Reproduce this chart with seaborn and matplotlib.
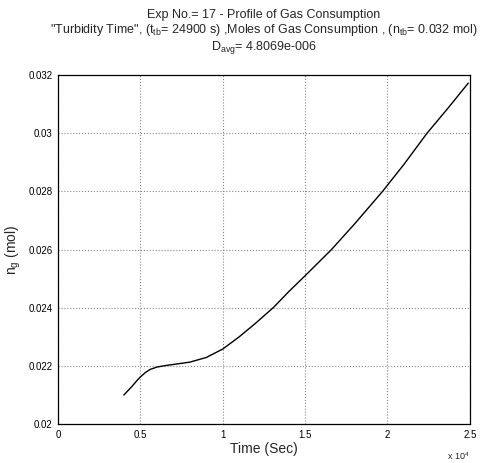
import numpy as np
import pandas as pd
import matplotlib
matplotlib.use('Agg')
import matplotlib.pyplot as plt
import seaborn as sns

# values
time_sec = [4000, 4200, 4500, 4800, 5000, 5300, 5600, 6000, 6500, 7000,
            8000, 9000, 10000, 11000, 12000, 13100, 14000, 15000, 16600,
            18000, 19700, 21000, 22400, 23700, 24900]
n_gas = [0.0210, 0.02112, 0.02130, 0.02150, 0.02162, 0.02177, 0.02188,
         0.02196, 0.02201, 0.02205, 0.02213, 0.02229, 0.02258, 0.02300,
         0.02347, 0.02402, 0.02455, 0.02510, 0.02600, 0.02688, 0.02800,
         0.02893, 0.03000, 0.03088, 0.03172]
x_ticks = [0, 5000, 10000, 15000, 20000, 25000]
x_ticklabels = ['0', '0.5', '1', '1.5', '2', '2.5']
y_ticks = [0.020, 0.022, 0.024, 0.026, 0.028, 0.030, 0.032]
y_ticklabels = ['0.02', '0.022', '0.024', '0.026', '0.028', '0.03', '0.032']

df = pd.DataFrame({'time': time_sec, 'ng': n_gas})

sns.set_style('white')
plt.rcParams['font.family'] = ['Liberation Sans', 'DejaVu Sans']
plt.rcParams['mathtext.fontset'] = 'custom'
plt.rcParams['mathtext.rm'] = 'Liberation Sans'
plt.rcParams['mathtext.it'] = 'Liberation Sans'

fig = plt.figure(figsize=(4.91, 4.63), dpi=100)
ax = fig.add_axes([0.118, 0.084, 0.839, 0.754])
sns.lineplot(data=df, x='time', y='ng', color='black', linewidth=1.0, ax=ax)

ax.set_xlim(0, 25000)
ax.set_ylim(0.02, 0.032)
ax.set_xticks(x_ticks)
ax.set_xticklabels(x_ticklabels, fontsize=7)
ax.set_yticks(y_ticks)
ax.set_yticklabels(y_ticklabels, fontsize=7)
ax.tick_params(direction='in', length=3, width=0.8, colors='black', pad=4)
ax.grid(True, linestyle=':', color='#888888', linewidth=0.8)
for s in ax.spines.values():
    s.set_color('black')
    s.set_linewidth(0.9)

ax.set_xlabel('Time (Sec)', fontsize=10, labelpad=2)
ax.set_ylabel(r'n$_{\mathrm{g}}$ (mol)', fontsize=10, labelpad=4)
ax.text(1.0, -0.075, r'x 10$^{4}$', transform=ax.transAxes, fontsize=6.5,
        ha='right', va='top')

title = ('Exp No.= 17 - Profile of Gas Consumption\n'
         '"Turbidity Time", (t$_{\\mathrm{tb}}$= 24900 s) ,Moles of Gas Consumption , '
         '(n$_{\\mathrm{tb}}$= 0.032 mol)\n'
         'D$_{\\mathrm{avg}}$= 4.8069e-006')
ax.set_title(title, fontsize=9, linespacing=1.1, pad=18)

fig.savefig('out.png', dpi=100)
